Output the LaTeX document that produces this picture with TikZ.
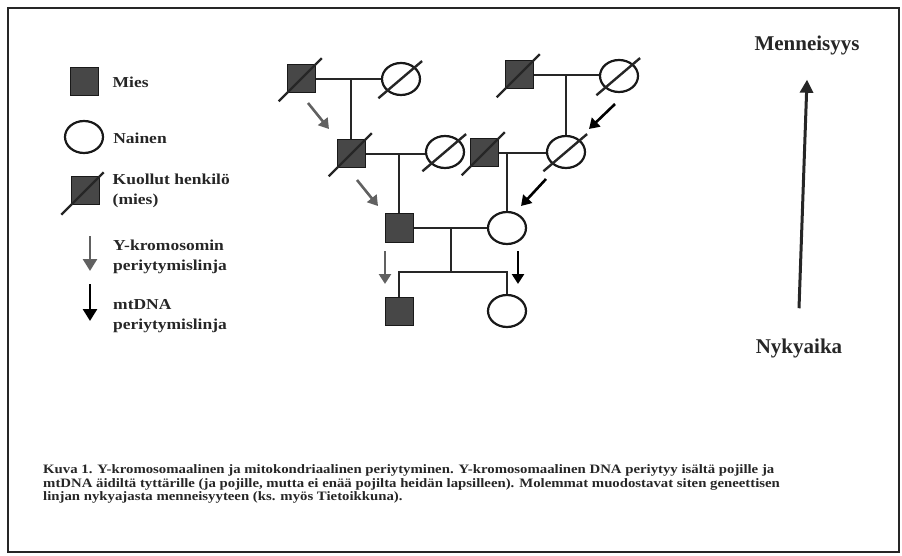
\documentclass[tikz,border=0pt]{standalone}
\usepackage{fontspec}
\setmainfont[FakeStretch=1.15]{Liberation Serif}
\newfontfamily\axisfont{Liberation Serif}
\usetikzlibrary{shapes.geometric, arrows.meta, positioning}

\begin{document}
\begin{tikzpicture}[
    x=1pt, y=-1pt,
    mies/.style={rectangle, draw=black!90, fill=black!72, minimum size=28pt, inner sep=0pt, line width=1pt},
    nainen/.style={ellipse, draw=black!90, fill=white, minimum width=38pt, minimum height=32pt, inner sep=0pt, line width=2.2pt},
    line/.style={draw=black!85, line width=2.5pt},
    kuollut/.style={draw=black!85, line width=2.4pt, shorten <=-11pt, shorten >=-9pt},
    yarrow/.style={draw=black!62, line width=2.6pt, -{Triangle[length=10pt,width=12pt]}},
    mtarrow/.style={draw=black, line width=2.6pt, -{Triangle[length=10pt,width=12pt]}},
    selite/.style={font=\bfseries\fontsize{15.2}{19.5}\selectfont, align=left, inner sep=0pt, text=black!85},
    aika/.style={font=\axisfont\bfseries\fontsize{21}{24}\selectfont, inner sep=0pt, text=black!85}
]
\useasboundingbox (0,0) rectangle (902,556);
\draw[line width=2.5pt, black!85] (8,8) rectangle (899,552);

% Legend
\node[mies] (lm) at (84,82) {};
\node[selite, right=14pt of lm] (lmt) {Mies};
\node[nainen] (ln) at (84,137) {};
\node[selite, right=9pt of ln, yshift=-1pt] (lnt) {Nainen};
\node[mies] (lk) at (85,191) {};
\draw[kuollut, shorten <=-13pt, shorten >=-6pt] (lk.south west) -- (lk.north east);
\node[selite, right=13pt of lk] (lkt) {Kuollut henkilö\\(mies)};
\coordinate (ly1) at (90,236);
\coordinate (ly2) at (90,271);
\draw[yarrow, -{Triangle[length=12pt,width=14pt]}] (ly1) -- (ly2);
\node[selite, anchor=west] (lyt) at (113,257) {Y-kromosomin\\periytymislinja};
\coordinate (lt1) at (90,284);
\coordinate (lt2) at (90,321);
\draw[mtarrow, -{Triangle[length=12pt,width=14pt]}] (lt1) -- (lt2);
\node[selite, anchor=west] (ltt) at (113,316) {mtDNA\\periytymislinja};

% Generation 1
\node[mies] (m1) at (301,79) {};
\node[nainen] (n1) at (401,79) {};
\node[mies] (m2) at (519,75) {};
\node[nainen] (n2) at (619,76) {};

% Generation 2
\node[mies] (m3) at (351,154) {};
\node[nainen] (n3) at (445,152) {};
\node[mies] (m4) at (484,153) {};
\node[nainen] (n4) at (566,152) {};

% Generation 3
\node[mies] (m5) at (399,228) {};
\node[nainen] (n5) at (507,228) {};
\coordinate (sib) at (451,272);

% Generation 4
\node[mies] (m6) at (399,311) {};
\node[nainen] (n6) at (507,311) {};

% Draw lines
\draw[line] (m1.east) -- (n1.west |- m1.east);
\draw[line] (m2.east) -- (n2.west |- m2.east);
\draw[line] (m3.north) -- (m3.north |- m1.east);
\draw[line] (n4.north) -- (n4.north |- m2.east);
\draw[line] (m3.east) -- (n3.west |- m3.east);
\draw[line] (m4.east) -- (n4.west |- m4.east);
\draw[line] (m5.north) -- (m5.north |- m3.east);
\draw[line] (n5.north) -- (n5.north |- m4.east);
\draw[line] (m5.east) -- (n5.west);
\draw[line] (sib) -- (sib |- m5.east);
\draw[line] (m6.north) |- (sib) -| (n6.north);

% Deceased
\foreach \p in {m1, n1, m2, n2, m3, n3, m4, n4}
  \draw[kuollut] (\p.south west) -- (\p.north east);

% Y-chromosome line
\coordinate (ya1) at (308,103);
\coordinate (ya2) at (329,129);
\coordinate (yb1) at (357,180);
\coordinate (yb2) at (378,206);
\coordinate (yc1) at (385,251);
\coordinate (yc2) at (385,284);
\draw[yarrow] (ya1) -- (ya2);
\draw[yarrow] (yb1) -- (yb2);
\draw[yarrow] (yc1) -- (yc2);

% mtDNA line
\coordinate (ta1) at (615,104);
\coordinate (ta2) at (589,129);
\coordinate (tb1) at (546,179);
\coordinate (tb2) at (521,206);
\coordinate (tc1) at (518,251);
\coordinate (tc2) at (518,284);
\draw[mtarrow] (ta1) -- (ta2);
\draw[mtarrow] (tb1) -- (tb2);
\draw[mtarrow] (tc1) -- (tc2);

% Time axis
\node[aika] (past) at (807,45) {Menneisyys};
\node[aika] (now) at (799,348) {Nykyaika};
\draw[draw=black!85, line width=3pt, -{Triangle[length=13pt,width=13pt]}] ([yshift=30pt]now.north) -- ([yshift=-25pt]past.south);

% Caption
\node[anchor=west, align=left, inner sep=0pt, text=black!85, font=\bfseries\fontsize{12.85}{13.3}\selectfont] (caption) at (43,484)
  {Kuva 1. Y-kromosomaalinen ja mitokondriaalinen periytyminen. Y-kromosomaalinen DNA periytyy isältä pojille ja\\
   mtDNA äidiltä tyttärille (ja pojille, mutta ei enää pojilta heidän lapsilleen). Molemmat muodostavat siten geneettisen\\
   linjan nykyajasta menneisyyteen (ks. myös Tietoikkuna).};
\end{tikzpicture}
\end{document}
